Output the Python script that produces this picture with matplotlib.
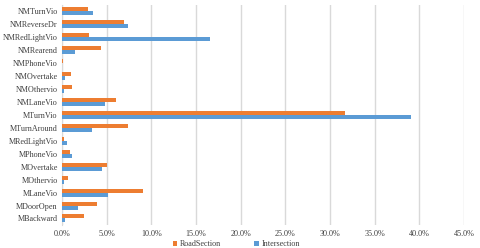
import matplotlib
matplotlib.use("Agg")
import matplotlib.pyplot as plt
import numpy as np
from matplotlib.ticker import FuncFormatter

categories = ["MBackward", "MDoorOpen", "MLaneVio", "MOthervio", "MOvertake",
              "MPhoneVio", "MRedLightVio", "MTurnAround", "MTurnVio",
              "NMLaneVio", "NMOthervio", "NMOvertake", "NMPhoneVio",
              "NMRearend", "NMRedLightVio", "NMReverseDr", "NMTurnVio"]
road_section = [2.45, 3.9, 9.1, 0.7, 5.0, 0.9, 0.26, 7.35, 31.7,
                6.0, 1.1, 1.0, 0.1, 4.4, 3.0, 6.9, 2.9]
intersection = [0.37, 1.75, 5.1, 0.2, 4.5, 1.1, 0.6, 3.4, 39.1,
                 4.8, 0.2, 0.4, 0.05, 1.5, 16.6, 7.4, 3.5]

plt.rcParams['font.family'] = ['Liberation Serif', 'DejaVu Serif']

fig = plt.figure(figsize=(4.8, 2.48), dpi=100)
ax = fig.add_axes([0.129, 0.093, 0.838, 0.887])

y = np.arange(len(categories))
h = 0.31
ax.barh(y + h / 2, np.array(road_section) / 100, height=h, color='#ED7D31', label='RoadSection', zorder=3)
ax.barh(y - h / 2, np.array(intersection) / 100, height=h, color='#5B9BD5', label='Intersection', zorder=3)

fs = 5.9
ax.set_yticks(y)
ax.set_yticklabels(categories, fontsize=fs, color='#404040')
ax.set_ylim(-0.5, len(categories) - 0.5)
ax.set_xlim(0, 0.45)
ax.set_xticks(np.arange(0, 0.451, 0.05))
ax.xaxis.set_major_formatter(FuncFormatter(lambda v, p: f"{v*100:.1f}%"))
ax.tick_params(axis='x', labelsize=fs, colors='#404040', length=0, pad=4)
ax.tick_params(axis='y', length=0, pad=3)
ax.grid(axis='x', color='#D9D9D9', linewidth=1, zorder=0)
for s in ['top', 'right', 'bottom']:
    ax.spines[s].set_visible(False)
ax.spines['left'].set_color('#D9D9D9')

handles, labels = ax.get_legend_handles_labels()
fig.legend(handles, labels, loc='lower center', bbox_to_anchor=(0.492, -0.03), ncol=2,
           frameon=False, fontsize=fs, handlelength=0.6, handleheight=0.6,
           handletextpad=0.3, columnspacing=4.0, labelcolor='#404040')

fig.savefig('out.png', dpi=100)
